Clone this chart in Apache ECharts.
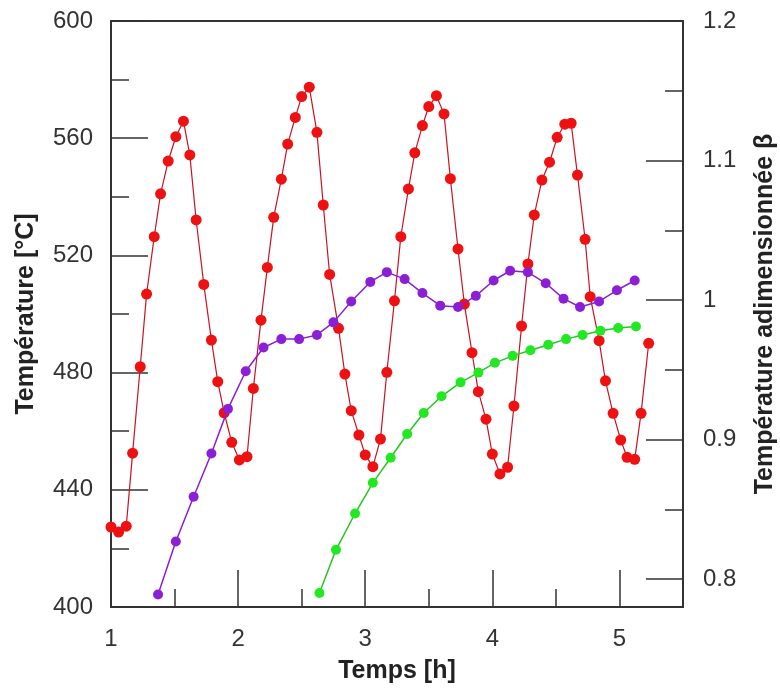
<!DOCTYPE html>
<html>
<head>
<meta charset="utf-8">
<script src="https://cdn.jsdelivr.net/npm/echarts@6/dist/echarts.min.js"></script>
<style>
html,body{margin:0;padding:0;background:#fff;}
#chart{width:780px;height:689px;}
</style>
</head>
<body>
<div id="chart"></div>
<script>
// Red: temperature (left axis, °C)
const redT = [1.00,1.06,1.12,1.17,1.23,1.28,1.34,1.39,1.45,1.51,1.57,1.62,1.67,1.73,1.79,1.84,1.89,1.95,2.01,2.07,2.12,2.18,2.23,2.28,2.34,2.39,2.45,2.50,2.56,2.62,2.67,2.72,2.79,2.84,2.89,2.95,3.00,3.06,3.12,3.17,3.23,3.28,3.34,3.39,3.45,3.50,3.56,3.62,3.67,3.73,3.78,3.84,3.89,3.95,4.00,4.06,4.12,4.17,4.23,4.28,4.33,4.39,4.45,4.51,4.57,4.62,4.67,4.73,4.77,4.84,4.89,4.95,5.01,5.06,5.12,5.17,5.23];
const redV = [427.3,425.6,427.6,452.5,482.0,506.8,526.4,541.0,552.2,560.5,565.8,554.3,532.1,510.1,491.1,476.9,466.3,456.2,450.2,451.3,474.6,497.9,515.9,533.0,546.0,558.0,567.1,574.2,577.4,562.0,537.2,513.5,495.1,479.5,467.0,458.7,451.9,447.9,457.3,480.1,504.5,526.4,542.7,555.0,564.3,570.8,574.5,568.3,546.2,522.2,503.4,486.8,473.5,464.1,452.2,445.4,447.7,468.6,495.9,517.1,533.8,545.7,551.8,560.3,564.8,565.1,547.4,525.5,505.9,490.9,477.2,466.1,457.0,451.1,450.4,466.1,490.0];
// Purple: dimensionless temperature (right axis)
const purT = [1.37,1.51,1.65,1.79,1.92,2.06,2.20,2.34,2.48,2.62,2.75,2.89,3.04,3.17,3.31,3.45,3.59,3.73,3.87,4.01,4.14,4.28,4.42,4.56,4.69,4.84,4.98,5.12];
const purV = [0.789,0.827,0.859,0.890,0.922,0.949,0.966,0.972,0.972,0.975,0.984,0.999,1.013,1.020,1.015,1.005,0.996,0.995,1.003,1.014,1.021,1.020,1.012,1.001,0.995,0.999,1.007,1.014];
// Green: dimensionless temperature (right axis)
const grnT = [2.64,2.77,2.92,3.06,3.20,3.33,3.46,3.60,3.75,3.89,4.02,4.16,4.30,4.44,4.58,4.71,4.85,4.99,5.13];
const grnV = [0.790,0.821,0.847,0.869,0.887,0.904,0.919,0.931,0.941,0.948,0.955,0.960,0.964,0.968,0.972,0.975,0.978,0.980,0.981];

const xTicks = [1,2,3,4,5];
const xMinorTicks = [1.5,2.5,3.5,4.5];
const rightTicks = [0.8,0.9,1,1.1,1.2];
const rightMinorTicks = [0.85,0.95,1.05,1.15];

const zip = (a,b) => a.map((v,i)=>[v,b[i]]);
const FONT = 'Liberation Sans, Arial, sans-serif';
const AX = '#333';

const chart = echarts.init(document.getElementById('chart'), null, {renderer:'canvas'});
chart.setOption({
  animation:false,
  backgroundColor:'#fff',
  textStyle:{fontFamily:FONT},
  grid:{left:111,right:97,top:21,bottom:82,show:true,borderColor:AX,borderWidth:2,backgroundColor:'transparent',outerBoundsMode:'none',containLabel:false},
  xAxis:[
    {type:'value',min:1,max:5.5,position:'bottom',
     axisLine:{show:true,lineStyle:{color:AX,width:2}},
     axisTick:{show:true,inside:true,length:37,customValues:xTicks,lineStyle:{color:AX,width:1.5}},
     axisLabel:{customValues:xTicks,fontSize:24,color:'#333',margin:20,fontFamily:FONT},
     splitLine:{show:false},
     name:'Temps [h]',nameLocation:'middle',nameGap:52,
     nameTextStyle:{fontSize:25,fontWeight:'bold',color:'#222',fontFamily:FONT}},
    {type:'value',min:1,max:5.5,position:'bottom',
     axisLine:{show:false},
     axisTick:{show:true,inside:true,length:18,customValues:xMinorTicks,lineStyle:{color:AX,width:1.5}},
     axisLabel:{show:false},splitLine:{show:false}}
  ],
  yAxis:[
    {type:'value',min:400,max:600,interval:40,position:'left',
     axisLine:{show:true,lineStyle:{color:AX,width:2}},
     axisTick:{show:true,inside:true,length:37,lineStyle:{color:AX,width:1.5}},
     minorTick:{show:true,splitNumber:2,length:18,lineStyle:{color:AX,width:1.5}},
     axisLabel:{fontSize:24,color:'#333',margin:18,fontFamily:FONT},
     splitLine:{show:false},
     name:'Température [°C]',nameLocation:'middle',nameGap:72,nameRotate:90,
     nameTextStyle:{fontSize:25,fontWeight:'bold',color:'#222',fontFamily:FONT}},
    {type:'value',min:0.78,max:1.2,position:'right',
     axisLine:{show:true,lineStyle:{color:AX,width:2}},
     axisTick:{show:true,inside:true,length:37,customValues:rightTicks,lineStyle:{color:AX,width:1.5}},
     axisLabel:{customValues:rightTicks,fontSize:24,color:'#333',margin:20,fontFamily:FONT},
     splitLine:{show:false},
     name:'Température adimensionnée β',nameLocation:'middle',nameGap:70,nameRotate:90,
     nameTextStyle:{fontSize:25,fontWeight:'bold',color:'#222',fontFamily:FONT}},
    {type:'value',min:0.78,max:1.2,position:'right',
     axisLine:{show:false},
     axisTick:{show:true,inside:true,length:18,customValues:rightMinorTicks,lineStyle:{color:AX,width:1.5}},
     axisLabel:{show:false},splitLine:{show:false}}
  ],
  series:[
    {type:'line',name:'T',xAxisIndex:0,yAxisIndex:0,data:zip(redT,redV),
     symbol:'circle',symbolSize:11,itemStyle:{color:'#ee1111'},
     lineStyle:{color:'#cc1122',width:1.2},z:3},
    {type:'line',name:'beta1',xAxisIndex:0,yAxisIndex:1,data:zip(purT,purV),
     symbol:'circle',symbolSize:10,itemStyle:{color:'#8a1fd6'},
     lineStyle:{color:'#8a1fd6',width:1.5},z:4},
    {type:'line',name:'beta2',xAxisIndex:0,yAxisIndex:1,data:zip(grnT,grnV),
     symbol:'circle',symbolSize:10,itemStyle:{color:'#22e822'},
     lineStyle:{color:'#22c822',width:1.5},z:5}
  ]
});
</script>
</body>
</html>
